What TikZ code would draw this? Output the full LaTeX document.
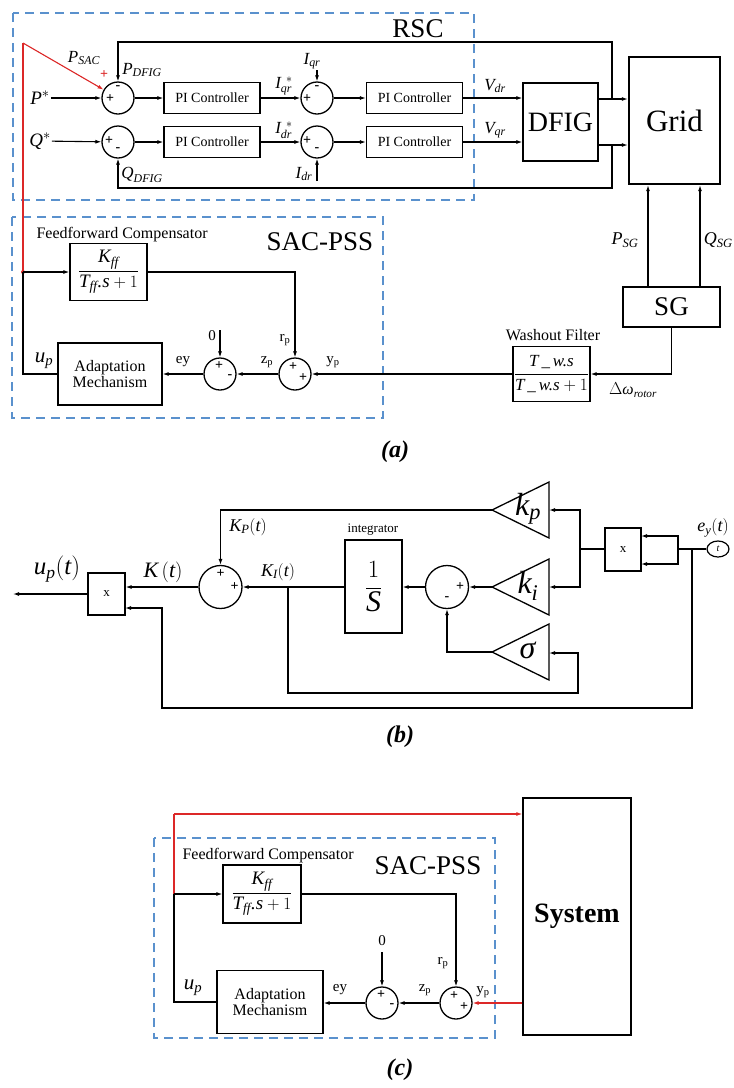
\documentclass[tikz,border=0pt]{standalone}
\usepackage{amsmath}
\usepackage{fontspec}
\setmainfont{Liberation Serif}
\usetikzlibrary{arrows.meta,shapes.geometric,calc}
\definecolor{dashblue}{RGB}{90,145,205}
\definecolor{sigred}{RGB}{220,40,40}
\newcommand{\mti}[1]{\textit{#1}}
\begin{document}
\begin{tikzpicture}[x=1pt,y=-1pt]
\tikzset{
 fs/.style={font=\fontsize{#1}{#1}\selectfont},
 ln/.style={line width=1.1pt},
 arr/.style={ln,-{Latex[length=6pt,width=4pt]}},
 blk/.style={draw,line width=1.3pt,inner sep=0pt,align=center},
 pibox/.style={blk,minimum width=96pt,minimum height=31pt,fs=14},
 sumc/.style={draw,circle,line width=1.3pt,minimum size=32pt,inner sep=0pt},
 bigc/.style={draw,circle,line width=1.3pt,minimum size=43pt,inner sep=0pt},
 dbox/.style={draw=dashblue,line width=1.3pt,dash pattern=on 9pt off 6pt},
 sgn/.style={inner sep=0pt,font=\fontsize{14}{14}\selectfont\bfseries},
 lab/.style={inner sep=1pt,fs=17},
 tri/.style={line width=1.3pt,line join=miter}
}
\useasboundingbox (0,0) rectangle (734,1088);

%% ================= (a) =================
\draw[dbox] (13,13) rectangle (474,200);
\draw[dbox] (12,217) rectangle (383,418);
\node[fs=27] (rsc) at (418,29) {RSC};
\node[fs=27] (sac) at (320,242) {SAC-PSS};

\node[sumc] (s1) at (118,98) {};
\node[sumc] (s2) at (118,142) {};
\node[pibox] (pi1) at (212,98) {PI Controller};
\node[pibox] (pi2) at (212,142) {PI Controller};
\node[sumc] (s3) at (317,98) {};
\node[sumc] (s4) at (317,142) {};
\node[pibox] (pi3) at (414.5,98) {PI Controller};
\node[pibox] (pi4) at (414.5,142) {PI Controller};
\node[blk,minimum width=75pt,minimum height=78pt,fs=28] (dfig) at (560.5,122) {DFIG};
\node[blk,line width=2.4pt,minimum width=91pt,minimum height=127pt,fs=31] (grid) at (674.5,120.5) {Grid};
\node[blk,minimum width=97pt,minimum height=40pt,fs=27] (sgen) at (671.5,307) {SG};
\node[blk,minimum width=77pt,minimum height=55pt,fs=17] (wash) at (551.5,374) {$\displaystyle\frac{\mti{T}\,\_\,\mti{w.s}}{\mti{T}\,\_\,\mti{w.s}+1}$};
\node[fs=16] (washt) at (553,335) {Washout Filter};
\node[blk,minimum width=77pt,minimum height=57pt,fs=19] (ff) at (108.5,272) {$\displaystyle\frac{\mti{K}_{\mti{ff}}}{\mti{T}_{\mti{ff}}\mti{.s}+1}$};
\node[fs=16,anchor=west] (fft) at (33,235) {Feedforward Compensator};
\node[blk,minimum width=104pt,minimum height=62pt,fs=16] (adapt) at (110,374) {Adaptation\\Mechanism};
\node[sumc] (s5) at (220,374) {};
\node[sumc] (s6) at (295,374) {};

% signs
\node[sgn] (s1m) at ($(s1)+(0,-10)$) {-};
\node[sgn] (s1p) at ($(s1)+(-8,1)$) {+};
\node[sgn] (s2p) at ($(s2)+(-9,-1)$) {+};
\node[sgn] (s2m) at ($(s2)+(0,8)$) {-};
\node[sgn] (s3m) at ($(s3)+(0,-10)$) {-};
\node[sgn] (s3p) at ($(s3)+(-10,1)$) {+};
\node[sgn] (s4p) at ($(s4)+(-10,-1)$) {+};
\node[sgn] (s4m) at ($(s4)+(0,8)$) {-};
\node[sgn] (s5p) at ($(s5)+(-1,-8)$) {+};
\node[sgn] (s5m) at ($(s5)+(10,3)$) {-};
\node[sgn] (s6p) at ($(s6)+(-2,-7)$) {+};
\node[sgn] (s6q) at ($(s6)+(8,4)$) {+};

% labels
\node[lab,fs=19] (pstar) at (40,98) {$\mti{P}^{*}$};
\node[lab,fs=19] (qstar) at (40,141) {$\mti{Q}^{*}$};
\node[lab] (lpsac) at (84,58) {$\mti{P}_{\mti{SAC}}$};
\node[sgn,text=sigred] (redp) at (104,75) {+};
\node[lab] (lpdfig) at (142,70) {$\mti{P}_{\mti{DFIG}}$};
\node[lab] (lqdfig) at (142,175) {$\mti{Q}_{\mti{DFIG}}$};
\node[lab] (liqrs) at (284,86) {$\mti{I}_{\mti{qr}}^{\;\,*}$};
\node[lab] (lidrs) at (284,130) {$\mti{I}_{\mti{dr}}^{\;\,*}$};
\node[lab] (liqr) at (312,61) {$\mti{I}_{\mti{qr}}$};
\node[lab] (lidr) at (304,174) {$\mti{I}_{\mti{dr}}$};
\node[lab] (lvdr) at (495,86) {$\mti{V}_{\mti{dr}}$};
\node[lab] (lvqr) at (495,130) {$\mti{V}_{\mti{qr}}$};
\node[lab,fs=18] (lpsg) at (625,240) {$\mti{P}_{\mti{SG}}$};
\node[lab,fs=18,anchor=east] (lqsg) at (734,240) {$\mti{Q}_{\mti{SG}}$};
\node[lab,fs=16] (ldw) at (633,390) {$\Delta\mti{ω}_{\mti{rotor}}$};
\node[lab,fs=15] (lzero) at (212,336) {0};
\node[lab,fs=15] (lrp) at (285,340) {r\textsubscript{p}};
\node[lab,fs=15] (ley) at (183,362) {ey};
\node[lab,fs=15] (lzp) at (267,362) {z\textsubscript{p}};
\node[lab,fs=15] (lyp) at (333,362) {y\textsubscript{p}};
\node[lab,fs=21] (lup) at (44,361) {$\mti{u}_{\mti{p}}$};
\node[font=\fontsize{24}{24}\selectfont\bfseries\itshape] (capa) at (395,452) {(a)};

% coordinates
\coordinate (rtop) at (23,43);
\coordinate (junc) at (23,272);
\coordinate (upc) at (23,374);
\coordinate (fbP) at (612,99);
\coordinate (fbQ) at (612,145);
\coordinate (tP) at (612,42);
\coordinate (bQ) at (612,188);
\coordinate (iqrT) at (317,70);
\coordinate (idrB) at (317,181);
\coordinate (zT) at (220,330);
\coordinate (psgx) at (648,0);
\coordinate (qsgx) at (700,0);

% connectors
\draw[arr] (pstar) -- (s1);
\draw[arr] (qstar) -- (s2);
\draw[arr] (s1) -- (pi1);
\draw[arr] (s2) -- (pi2);
\draw[arr] (pi1) -- (s3);
\draw[arr] (pi2) -- (s4);
\draw[arr] (s3) -- (pi3);
\draw[arr] (s4) -- (pi4);
\draw[arr] (pi3.east) -- (pi3.east -| dfig.west);
\draw[arr] (pi4.east) -- (pi4.east -| dfig.west);
\draw[arr] (dfig.east |- fbP) -- (grid.west |- fbP);
\draw[arr] (dfig.east |- fbQ) -- (grid.west |- fbQ);
\draw[arr] (fbP) -- (tP) -| (s1.north);
\draw[arr] (fbQ) -- (bQ) -| (s2.south);
\draw[arr] (iqrT) -- (s3.north);
\draw[arr] (idrB) -- (s4.south);
\draw[arr,draw=sigred,fill=sigred] (rtop) -- (s1);
\draw[ln,sigred] (junc) -- (rtop);
\fill[sigred] (junc) circle (2pt);
\draw[ln] (adapt.west) -- (upc) -- (junc);
\draw[arr] (junc) -- (ff.west |- junc);
\draw[arr] (ff.east |- junc) -| (s6.north);
\draw[arr] (zT) -- (s5.north);
\draw[arr] (s6) -- (s5);
\draw[arr] (s5) -- (adapt);
\draw[arr] (wash.west |- s6) -- (s6);
\draw[arr] (sgen.south) |- (wash.east);
\draw[arr] (sgen.north -| psgx) -- (grid.south -| psgx);
\draw[arr] (sgen.north -| qsgx) -- (grid.south -| qsgx);

%% ================= (b) =================
\node[blk,minimum width=37pt,minimum height=42pt,fs=13] (m1) at (106.5,594) {x};
\node[bigc] (sb) at (220.5,587) {};
\node[blk,minimum width=57pt,minimum height=93pt,fs=30] (integ) at (373.5,586.5) {$\displaystyle\frac{1}{\mti{S}}$};
\node[fs=13] (integt) at (373,530) {integrator};
\node[bigc] (sm) at (447,587) {};
\node[blk,minimum width=36pt,minimum height=43pt,fs=13] (m2) at (623,549.5) {x};
\node[draw,ellipse,line width=1.2pt,minimum width=22pt,minimum height=16pt,inner sep=0pt,fs=10] (src) at (718,549) {\mti{t}};

\draw[tri] (492,510) coordinate (kpT) -- (549,482) -- (549,538) -- cycle;
\draw[tri] (492,587) coordinate (kiT) -- (549,559) -- (549,615) -- cycle;
\draw[tri] (492,652) coordinate (sgT) -- (549,624) -- (549,680) -- cycle;
\node[fs=32] (kpl) at (528,509) {$\mti{k}_{\mti{p}}$};
\node[fs=32] (kil) at (528,586) {$\mti{k}_{\mti{i}}$};
\node[fs=32] (sgl) at (528,650) {\mti{σ}};
\coordinate (kpB) at (549,510);
\coordinate (kiB) at (549,587);
\coordinate (sgB) at (549,653);

\node[sgn] (sbp1) at ($(sb)+(0,-13)$) {+};
\node[sgn] (sbp2) at ($(sb)+(14,0)$) {+};
\node[sgn] (smp) at ($(sm)+(13,0)$) {+};
\node[sgn] (smm) at ($(sm)+(0,12)$) {-};

\node[lab,fs=25] (lupt) at (57,569) {$\mti{u}_{\mti{p}}(\mti{t})$};
\node[lab,fs=22] (lkt) at (163,572) {$\mti{K}\,(\mti{t})$};
\node[lab,fs=18] (lkp) at (248,527) {$\mti{K}_{\mti{P}}(\mti{t})$};
\node[lab,fs=18] (lki) at (278,572) {$\mti{K}_{\mti{I}}(\mti{t})$};
\node[lab,fs=18] (ley2) at (713,528) {$\mti{e}_{\mti{y}}(\mti{t})$};
\node[font=\fontsize{24}{24}\selectfont\bfseries\itshape] (capb) at (400,737) {(b)};

\coordinate (uout) at (13,594);
\coordinate (kij) at (288,587);
\coordinate (dj) at (580,549);
\coordinate (ej) at (678,549);
\coordinate (ej2) at (692,549);
\coordinate (m2a) at (641,536);
\coordinate (m2b) at (641,564);
\coordinate (m1b) at (125,608);

\draw[arr] (m1.west |- uout) -- (uout);
\draw[arr] (sb) -- (m1.east |- sb);
\draw[arr] (integ.west |- sb) -- (sb);
\draw[arr] (sm) -- (integ.east |- sm);
\draw[arr] (kiT) -- (sm);
\draw[arr] (kpT) -| (sb.north);
\draw[arr] (sgT) -| (sm.south);
\draw[ln] (m2.west |- dj) -- (dj);
\draw[arr] (dj) |- (kpB);
\draw[arr] (dj) |- (kiB);
\draw[ln] (src.west) -- (ej);
\draw[arr] (ej) |- (m2a);
\draw[arr] (ej) |- (m2b);
\draw[arr] (ej2) -- (692,708) -- (162,708) |- (m1b);
\draw[arr] (kij) -- (288,693) -- (578,693) |- (sgB);

%% ================= (c) =================
\draw[dbox] (154,838) rectangle (495,1038);
\node[blk,minimum width=108pt,minimum height=237pt,font=\fontsize{28}{28}\selectfont\bfseries] (sys) at (577,916.5) {System};
\node[blk,minimum width=78pt,minimum height=58pt,fs=19] (ffc) at (262,894) {$\displaystyle\frac{\mti{K}_{\mti{ff}}}{\mti{T}_{\mti{ff}}\mti{.s}+1}$};
\node[blk,minimum width=106pt,minimum height=63pt,fs=16] (adc) at (270,1002) {Adaptation\\Mechanism};
\node[sumc] (sl) at (382,1003) {};
\node[sumc] (sr) at (456,1003) {};
\node[fs=16,anchor=west] (fftc) at (179,856) {Feedforward Compensator};
\node[fs=27] (sacc) at (428,866) {SAC-PSS};

\node[sgn] (slp) at ($(sl)+(-1,-8)$) {+};
\node[sgn] (slm) at ($(sl)+(10,3)$) {-};
\node[sgn] (srp) at ($(sr)+(-2,-7)$) {+};
\node[sgn] (srq) at ($(sr)+(8,4)$) {+};

\node[lab,fs=15] (lzc) at (382,941) {0};
\node[lab,fs=15] (lrpc) at (443,963) {r\textsubscript{p}};
\node[lab,fs=15] (leyc) at (340,990) {ey};
\node[lab,fs=15] (lzpc) at (425,990) {z\textsubscript{p}};
\node[lab,fs=15] (lypc) at (483,992) {y\textsubscript{p}};
\node[lab,fs=21] (lupc) at (193,988) {$\mti{u}_{\mti{p}}$};
\node[font=\fontsize{24}{24}\selectfont\bfseries\itshape] (capc) at (400,1070) {(c)};

\coordinate (rc) at (174,814);
\coordinate (jc) at (174,894);
\coordinate (zc) at (382,952);

\draw[arr,draw=sigred,fill=sigred] (rc) -- (sys.west |- rc);
\draw[ln,sigred] (jc) -- (rc);
\draw[ln] (adc.west) -| (jc);
\draw[arr] (jc) -- (ffc.west);
\draw[arr] (ffc.east) -| (sr.north);
\draw[arr] (zc) -- (sl.north);
\draw[arr] (sr) -- (sl);
\draw[arr] (sl) -- (adc.east |- sl);
\draw[arr,draw=sigred,fill=sigred] (sys.west |- sr) -- (sr);
\end{tikzpicture}
\end{document}
